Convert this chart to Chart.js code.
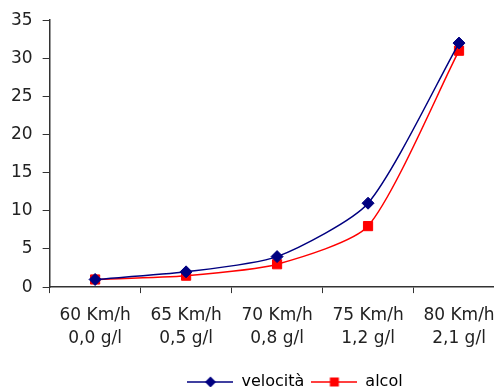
<!DOCTYPE html>
<html>
<head>
<meta charset="utf-8">
<script src="https://cdn.jsdelivr.net/npm/chart.js@4/dist/chart.umd.min.js"></script>
<style>
  html, body { margin: 0; padding: 0; background: #fff; overflow: hidden; }
  #wrap { position: relative; width: 512px; height: 400px; }
</style>
</head>
<body>
<div id="wrap"><canvas id="js--chart"></canvas></div>
<script>
// categories (two lines each)
const speeds = ["60 Km/h", "65 Km/h", "70 Km/h", "75 Km/h", "80 Km/h"];
const alcohol = ["0,0 g/l", "0,5 g/l", "0,8 g/l", "1,2 g/l", "2,1 g/l"];

// series
const velocita = [1, 2, 4, 11, 32];
const alcol = [1, 1.5, 3, 8, 31];

const yTicks = [0, 5, 10, 15, 20, 25, 30, 35];

const labels = speeds.map(function(s, i){ return [s, alcohol[i]]; });

// little legend picture: line with marker in the middle
function legendIcon(color, shape){
    const c = document.createElement("canvas");
    c.width = 46;
    c.height = 14;
    const ctx = c.getContext("2d");
    ctx.strokeStyle = color;
    ctx.lineWidth = 1.5;
    ctx.beginPath();
    ctx.moveTo(0, 7);
    ctx.lineTo(46, 7);
    ctx.stroke();
    ctx.fillStyle = color;
    ctx.beginPath();
    if(shape === "diamond"){
        ctx.moveTo(23, 1.5);
        ctx.lineTo(28.5, 7);
        ctx.lineTo(23, 12.5);
        ctx.lineTo(17.5, 7);
    } else {
        ctx.rect(18.5, 2.5, 9, 9);
    }
    ctx.closePath();
    ctx.fill();
    return c;
}

const icons = [legendIcon("#000080", "diamond"), legendIcon("#ff0000", "square")];

// legend in the original sits a bit right of the plot centre
const legendShift = {
    id: "legendShift",
    afterLayout(chart){
        chart.legend.left += 18;
        chart.legend.right += 18;
    }
};

const data = {
    labels: labels,
    datasets: [
        {
            label: "velocità",
            data: velocita,
            borderColor: "#000080",
            backgroundColor: "#000080",
            borderWidth: 1.5,
            pointStyle: "rectRot",
            pointRadius: 6,
            pointBorderWidth: 1,
            tension: 0.22
        },
        {
            label: "alcol",
            data: alcol,
            borderColor: "#ff0000",
            backgroundColor: "#ff0000",
            borderWidth: 1.5,
            pointStyle: "rect",
            pointRadius: 6.5,
            pointBorderWidth: 1,
            tension: 0.22
        }
    ]
};

const config = {
    type: "line",
    data: data,
    plugins: [legendShift],
    options: {
        responsive: true,
        maintainAspectRatio: false,
        animation: false,
        layout: { padding: { left: 1, top: 11, right: 0, bottom: 0 } },
        plugins: {
            tooltip: { enabled: false },
            legend: {
                position: "bottom",
                fullSize: false,
                labels: {
                    usePointStyle: true,
                    pointStyleWidth: 46,
                    padding: 7,
                    color: "#222",
                    font: { family: "DejaVu Sans", size: 16 },
                    generateLabels: function(chart){
                        return chart.data.datasets.map(function(ds, i){
                            return {
                                text: ds.label,
                                pointStyle: icons[i],
                                fillStyle: ds.backgroundColor,
                                strokeStyle: ds.borderColor,
                                lineWidth: 0,
                                datasetIndex: i
                            };
                        });
                    }
                }
            }
        },
        scales: {
            x: {
                offset: true,
                grid: { offset: true, drawOnChartArea: false, drawTicks: true, tickLength: 6, color: "#333" },
                border: { color: "#333", width: 1.5 },
                ticks: {
                    color: "#222",
                    padding: 11,
                    maxRotation: 0,
                    autoSkip: false,
                    font: { family: "DejaVu Sans", size: 17, lineHeight: 1.35 }
                },
                afterFit: function(scale){ scale.height += 6; }
            },
            y: {
                min: 0,
                max: 35,
                afterBuildTicks: function(scale){
                    scale.ticks = yTicks.map(function(v){ return { value: v }; });
                },
                grid: { drawOnChartArea: false, drawTicks: true, tickLength: 7, color: "#333" },
                border: { color: "#333", width: 1.5 },
                ticks: {
                    color: "#222",
                    padding: 10,
                    font: { family: "DejaVu Sans", size: 17 }
                }
            }
        }
    }
};

new Chart(document.getElementById("js--chart"), config);
</script>
</body>
</html>
